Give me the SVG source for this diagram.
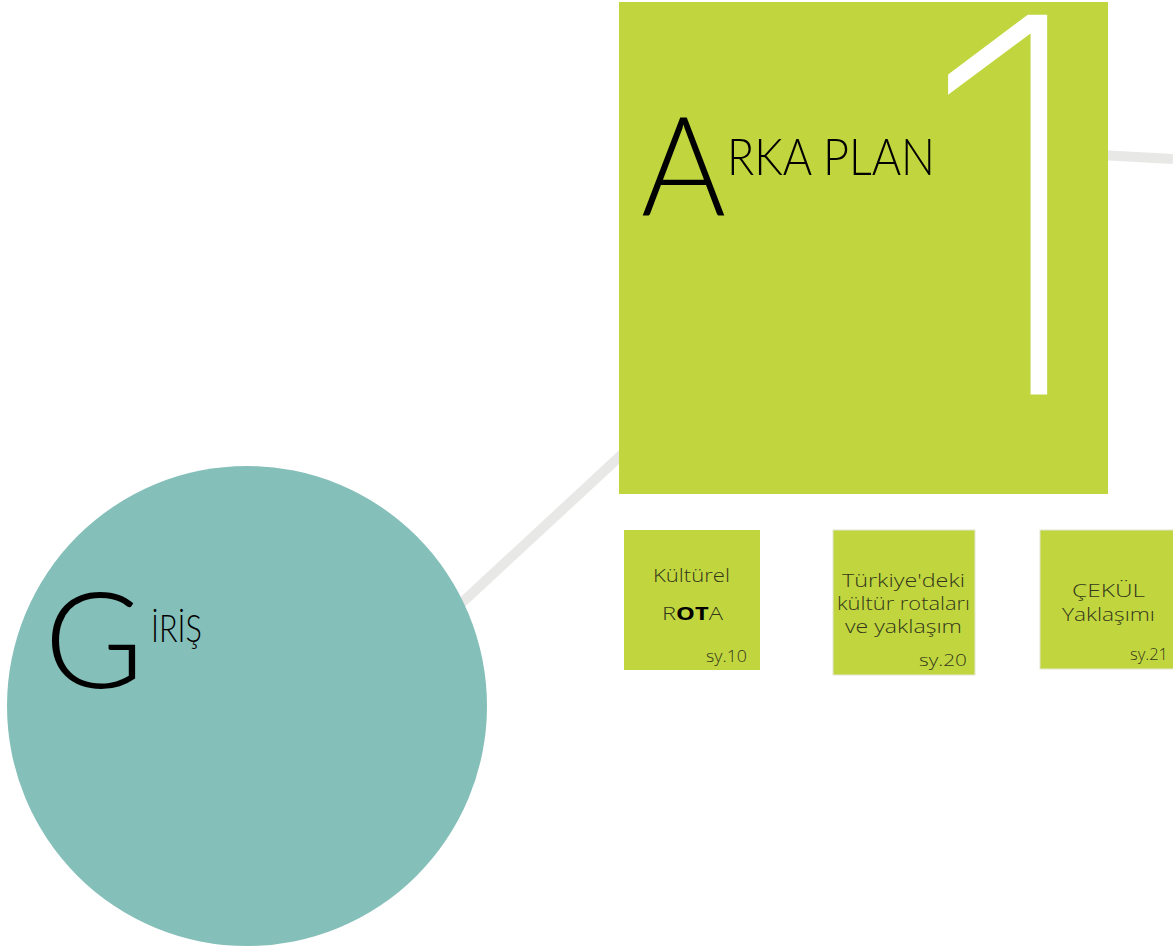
<svg xmlns="http://www.w3.org/2000/svg" width="1173" height="948" viewBox="0 0 1173 948">
<style>
.conn{stroke:#e8e8e6;stroke-width:10;fill:none}
.green{fill:#c1d63e}
.big{font-family:"Lato","Liberation Sans",sans-serif;font-weight:300;fill:#000}
.lbl{font-family:"Open Sans","Noto Sans",sans-serif;font-weight:300;font-size:18px;fill:#33371c}
.pg{font-size:17px}
</style>
<rect width="1173" height="948" fill="#fff"/>
<g id="connectors">
<line class="conn" x1="440" y1="623" x2="630" y2="447"/>
<line class="conn" x1="1100" y1="155" x2="1173" y2="159"/>
</g>
<g id="giris">
<circle cx="247" cy="706" r="240" fill="#85bfb9"/>
<text class="big" x="44" y="688" font-size="134" textLength="100" lengthAdjust="spacingAndGlyphs">G</text>
<text class="big" x="151" y="642" font-size="38" textLength="51" lengthAdjust="spacingAndGlyphs">İRİŞ</text>
</g>
<g id="arka-plan">
<rect class="green" x="619" y="2" width="489" height="492"/>
<text x="1103" y="392" text-anchor="end" font-family="Inter,'Open Sans',sans-serif" font-weight="100" font-size="515" fill="#fff" stroke="#fff" stroke-width="5">1</text>
<text class="big" x="641" y="215" font-size="139" textLength="85" lengthAdjust="spacingAndGlyphs">A</text>
<text class="big" x="727" y="175" font-size="52" textLength="208" lengthAdjust="spacingAndGlyphs">RKA PLAN</text>
</g>
<g id="kulturel-rota">
<rect class="green" x="624" y="530" width="136" height="140"/>
<text class="lbl" x="653" y="582" font-size="19" textLength="77" lengthAdjust="spacingAndGlyphs">Kültürel</text>
<text class="lbl" x="662" y="620" font-size="19" textLength="61" lengthAdjust="spacingAndGlyphs">R<tspan font-weight="bold" fill="#000">OT</tspan>A</text>
<text class="lbl pg" x="706" y="662" textLength="41" lengthAdjust="spacingAndGlyphs">sy.10</text>
</g>
<g id="turkiye-rotalari">
<rect class="green" x="833" y="530" width="142" height="145" stroke="#e2e6d2" stroke-width="1"/>
<text class="lbl" x="842" y="587" textLength="123" lengthAdjust="spacingAndGlyphs">Türkiye'deki</text>
<text class="lbl" x="837" y="610" textLength="133" lengthAdjust="spacingAndGlyphs">kültür rotaları</text>
<text class="lbl" x="845" y="633" textLength="117" lengthAdjust="spacingAndGlyphs">ve yaklaşım</text>
<text class="lbl pg" x="919" y="666" textLength="48" lengthAdjust="spacingAndGlyphs">sy.20</text>
</g>
<g id="cekul">
<rect class="green" x="1040" y="530" width="140" height="139" stroke="#e2e6d2" stroke-width="1"/>
<text class="lbl" x="1072" y="597" textLength="73" lengthAdjust="spacingAndGlyphs">ÇEKÜL</text>
<text class="lbl" x="1062" y="621" textLength="93" lengthAdjust="spacingAndGlyphs">Yaklaşımı</text>
<text class="lbl pg" x="1130" y="660" textLength="38" lengthAdjust="spacingAndGlyphs">sy.21</text>
</g>
</svg>
